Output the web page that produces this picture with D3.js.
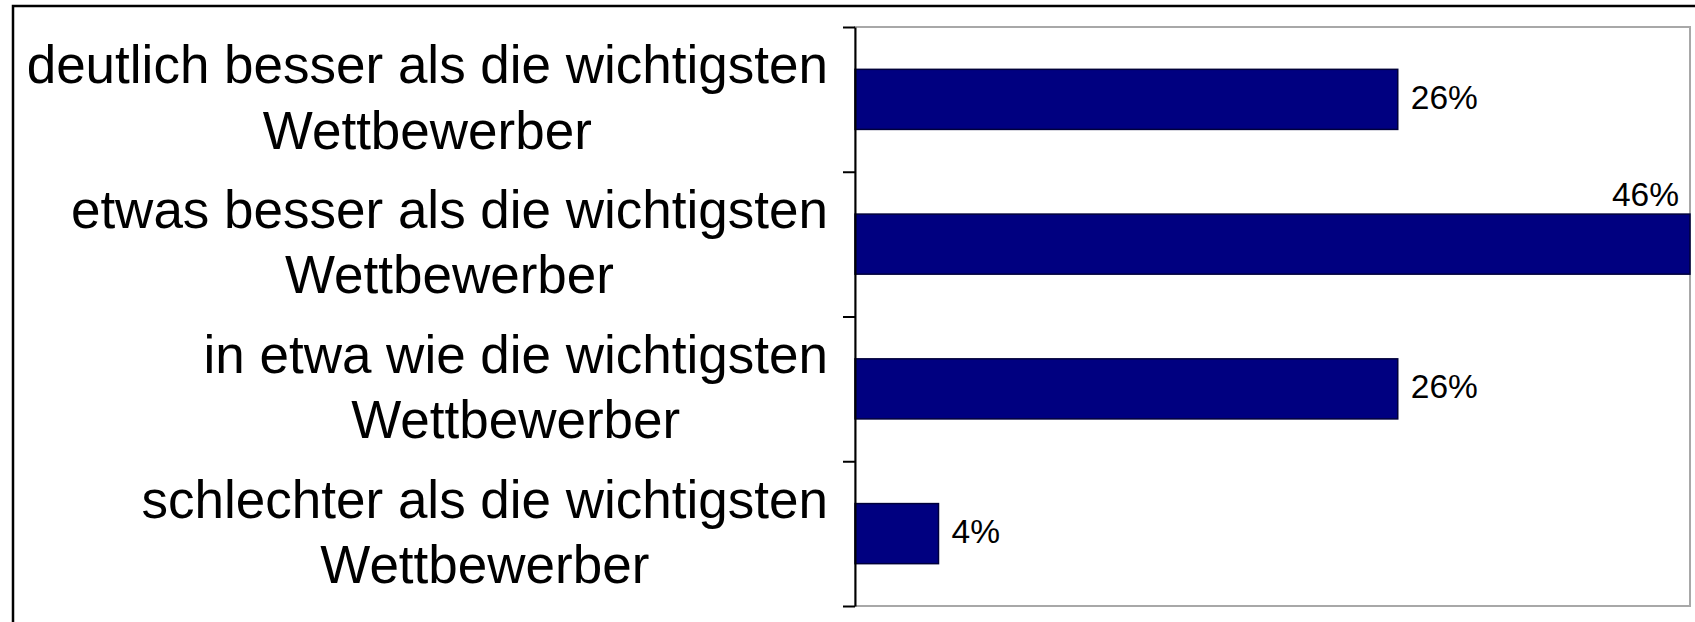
<!DOCTYPE html>
<html>
<head>
<meta charset="utf-8">
<script src="https://cdn.jsdelivr.net/npm/d3@7/dist/d3.min.js"></script>
<style>
  html, body { margin: 0; padding: 0; background: #fff; overflow: hidden; }
  svg { display: block; }
  text { font-family: "Liberation Sans", Arial, sans-serif; fill: #000; }
</style>
</head>
<body>
<div id="chart"></div>
<script>
// categories, top to bottom (each label wraps onto two lines)
const categories = [
  ["deutlich besser als die wichtigsten", "Wettbewerber"],
  ["etwas besser als die wichtigsten", "Wettbewerber"],
  ["in etwa wie die wichtigsten", "Wettbewerber"],
  ["schlechter als die wichtigsten", "Wettbewerber"]
];
const shares = [26, 46, 26, 4];
const valueLabels = ["26%", "46%", "26%", "4%"];
const xMax = 40; // axis maximum, the 46% bar runs past it

const W = 1695, H = 622;
const plot = { left: 855, top: 27, right: 1690, bottom: 606 };
const labelRight = 828;
const catFont = 53;
const valFont = 33.5;

const svg = d3.select("#chart")
  .append("svg")
  .attr("width", W)
  .attr("height", H);

// outer frame (the screenshot cuts off its right and bottom sides)
svg.append("rect")
  .attr("x", 13).attr("y", 6)
  .attr("width", W + 20).attr("height", H + 20)
  .attr("fill", "#fff")
  .attr("stroke", "#000")
  .attr("stroke-width", 2.5);

const keys = categories.map(c => c.join(" "));

const y = d3.scaleBand()
  .domain(keys)
  .range([plot.top, plot.bottom])
  .paddingInner(0.585)
  .paddingOuter(0.2925);

const x = d3.scaleLinear()
  .domain([0, xMax])
  .range([plot.left, plot.right])
  .clamp(true);

// plot area border
svg.append("rect")
  .attr("x", plot.left).attr("y", plot.top)
  .attr("width", plot.right - plot.left)
  .attr("height", plot.bottom - plot.top)
  .attr("fill", "none")
  .attr("stroke", "#a8a8a8")
  .attr("stroke-width", 2);

// bars
svg.append("g")
  .selectAll("rect")
  .data(shares)
  .join("rect")
  .attr("x", x(0))
  .attr("y", (d, i) => y(keys[i]))
  .attr("width", d => x(d) - x(0))
  .attr("height", y.bandwidth())
  .attr("fill", "#000080")
  .attr("stroke", "#00003a")
  .attr("stroke-width", 1.5);

// category axis: ticks sit on the band boundaries
const tickScale = d3.scaleLinear()
  .domain([0, categories.length])
  .range([plot.top, plot.bottom]);

const axis = svg.append("g")
  .attr("transform", `translate(${plot.left},0)`)
  .call(d3.axisLeft(tickScale)
    .ticks(categories.length)
    .tickSize(12)
    .tickSizeOuter(0)
    .tickFormat(""));
axis.select(".domain").attr("stroke", "#000").attr("stroke-width", 2);
axis.selectAll(".tick line").attr("stroke", "#000").attr("stroke-width", 2);

// category labels: lines centred on each other, block right-aligned
const catG = svg.append("g")
  .selectAll("g")
  .data(categories)
  .join("g");

catG.each(function (lines, i) {
  const g = d3.select(this);
  const cy = y(keys[i]) + y.bandwidth() / 2;
  const texts = g.selectAll("text")
    .data(lines)
    .join("text")
    .attr("font-size", catFont)
    .attr("text-anchor", "middle")
    .attr("y", (d, j) => cy - 0.3 * catFont + j * 1.23 * catFont)
    .text(d => d);
  const widest = d3.max(texts.nodes(), n => n.getComputedTextLength());
  texts.attr("x", labelRight - widest / 2);
});

// value labels
svg.append("g")
  .selectAll("text")
  .data(shares)
  .join("text")
  .attr("font-size", valFont)
  .attr("text-anchor", d => d > xMax ? "end" : "start")
  .attr("x", d => d > xMax ? plot.right - 11 : x(d) + 13)
  .attr("y", (d, i) => d > xMax
    ? y(keys[i]) - 8
    : y(keys[i]) + y.bandwidth() / 2 + 0.28 * valFont)
  .text((d, i) => valueLabels[i]);
</script>
</body>
</html>
